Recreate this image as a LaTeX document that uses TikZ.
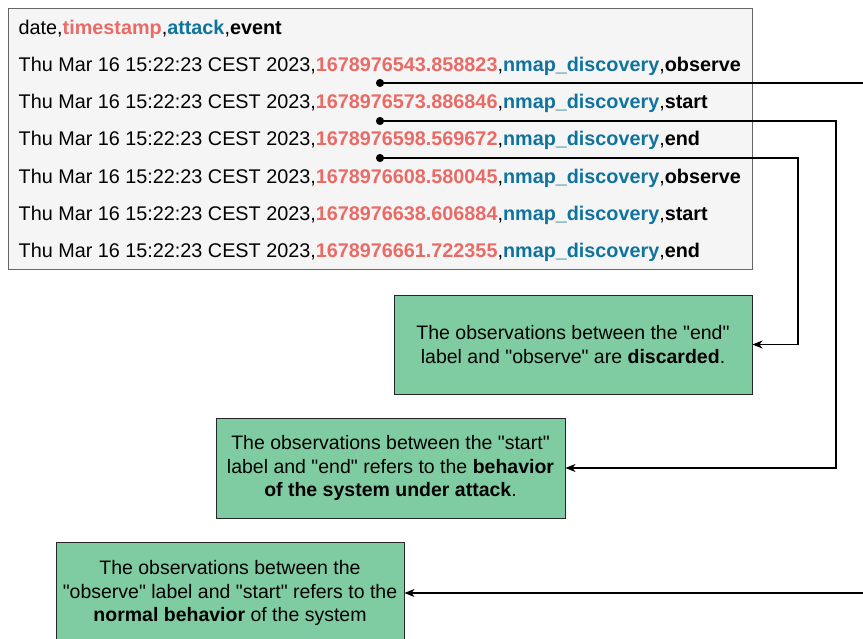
\documentclass[tikz,border=0pt]{standalone}
\usepackage{fontspec}
\setmainfont{Liberation Sans}[Ligatures=TeXOff]
\usepackage{tikz}
\usetikzlibrary{arrows.meta,positioning}

\definecolor{tsred}{HTML}{EA6B66}
\definecolor{atkblue}{HTML}{10739E}
\definecolor{notegreen}{HTML}{7FCCA2}
\definecolor{tblfill}{HTML}{F5F5F5}
\definecolor{tblline}{HTML}{666666}

\newcommand{\tsval}[1]{\textcolor{tsred}{\textbf{#1}}}
\newcommand{\atkval}[1]{\textcolor{atkblue}{\textbf{#1}}}

\tikzset{
  csvrow/.style={anchor=west, inner sep=0pt, text height=14pt, text depth=0pt, font=\fontsize{19.8}{23.8}\selectfont},
  tablebox/.style={draw=tblline, fill=tblfill, line width=1pt, minimum width=744pt, minimum height=261pt},
  notebox/.style={draw=black!85, fill=notegreen, line width=1pt, align=center},
  link/.style={line width=1.1pt, {Circle[length=8pt]}-{Stealth[length=10pt,width=8pt,inset=3pt]}},
}

\begin{document}
\begin{tikzpicture}[x=1pt, y=-1pt, font=\fontsize{19.5}{23.4}\selectfont]
            \useasboundingbox (0,0) rectangle (863,638);
            % log file
            \node[tablebox] (table) at (380.5,139) {};
            \node[csvrow] (head) at (18.5,27) {date,\tsval{timestamp},\atkval{attack},\textbf{event}};
            \node[csvrow] (row1) at (18.5,64) {Thu Mar 16 15:22:23 CEST 2023,\tsval{1678976543.858823},\atkval{nmap\_discovery},\textbf{observe}};
            \node[csvrow] (row2) at (18.5,101) {Thu Mar 16 15:22:23 CEST 2023,\tsval{1678976573.886846},\atkval{nmap\_discovery},\textbf{start}};
            \node[csvrow] (row3) at (18.5,138.5) {Thu Mar 16 15:22:23 CEST 2023,\tsval{1678976598.569672},\atkval{nmap\_discovery},\textbf{end}};
            \node[csvrow] (row4) at (18.5,176) {Thu Mar 16 15:22:23 CEST 2023,\tsval{1678976608.580045},\atkval{nmap\_discovery},\textbf{observe}};
            \node[csvrow] (row5) at (18.5,213) {Thu Mar 16 15:22:23 CEST 2023,\tsval{1678976638.606884},\atkval{nmap\_discovery},\textbf{start}};
            \node[csvrow] (row6) at (18.5,250) {Thu Mar 16 15:22:23 CEST 2023,\tsval{1678976661.722355},\atkval{nmap\_discovery},\textbf{end}};
            % notes
            \node[notebox, minimum width=358pt, minimum height=99pt] (discard) at (573,344.5) {The observations between the "end"\\label and "observe" are \textbf{discarded}.};
            \node[notebox, minimum width=349pt, minimum height=100pt] (attack) at (390.5,468) {The observations between the "start"\\label and "end" refers to the \textbf{behavior}\\\textbf{of the system under attack}.};
            \node[notebox, minimum width=348pt, minimum height=102pt] (normal) at (230,593) {The observations between the\\"observe" label and "start" refers to the\\\textbf{normal behavior} of the system};
            % links
            \coordinate (d1) at (376,83);
            \coordinate (d2) at (376,121);
            \coordinate (d3) at (376,158);
            \draw[link] (d1) -- ++(520,0) |- (normal.east);
            \draw[link] (d2) -- ++(460,0) |- (attack.east);
            \draw[link] (d3) -- ++(422,0) |- (discard.east);
        \end{tikzpicture}
\end{document}
